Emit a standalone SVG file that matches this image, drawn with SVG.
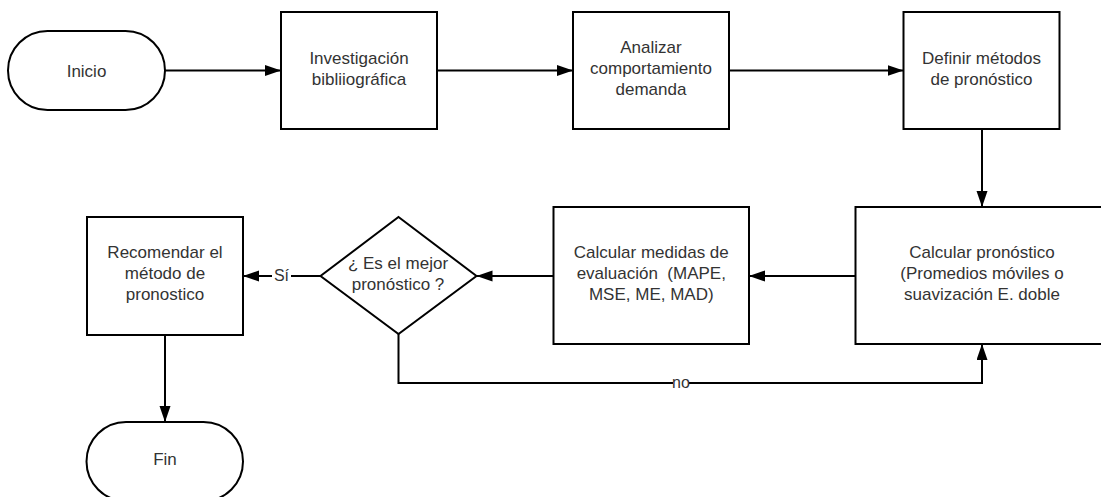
<svg xmlns="http://www.w3.org/2000/svg" width="1101" height="497" viewBox="0 0 1101 497">
<style>
.n{fill:#fff;stroke:#000;stroke-width:2}
.t{font-family:"Liberation Sans",Arial,sans-serif;font-size:17px;fill:#333;text-anchor:middle;white-space:pre}
.l{font-family:"Liberation Sans",Arial,sans-serif;font-size:16px;fill:#333;text-anchor:middle}
.c{fill:none;stroke:#000;stroke-width:2}
</style>
<defs>
<marker id="ah" markerUnits="userSpaceOnUse" markerWidth="17" markerHeight="12" refX="16" refY="5.5" orient="auto">
<path d="M0,0 L16,5.5 L0,11 z" fill="#000"/>
</marker>
</defs>
<rect width="1101" height="497" fill="#fff"/>
<g id="connectors">
<path class="c" d="M165,70.5 H281" marker-end="url(#ah)"/>
<path class="c" d="M437,70.5 H573" marker-end="url(#ah)"/>
<path class="c" d="M729,70.5 H903.5" marker-end="url(#ah)"/>
<path class="c" d="M982,129 V207" marker-end="url(#ah)"/>
<path class="c" d="M855.5,276 H749" marker-end="url(#ah)"/>
<path class="c" d="M553.5,276 H476.5" marker-end="url(#ah)"/>
<path class="c" d="M320.5,276 H243" marker-end="url(#ah)"/>
<path class="c" d="M165,335 V422" marker-end="url(#ah)"/>
<path class="c" d="M398.5,334 V383 H982 V344" marker-end="url(#ah)"/>
<rect x="272" y="265" width="19" height="20" fill="#fff"/>
<text class="l" x="281.5" y="281">Sí</text>
<rect x="673" y="373" width="16" height="18" fill="#fff"/>
<text class="l" x="681" y="388">no</text>
</g>
<g id="inicio">
<rect class="n" x="8" y="31" width="157" height="79" rx="39.5" ry="39.5"/>
<text class="t" x="86.5" y="76.5">Inicio</text>
</g>
<g id="investigacion">
<rect class="n" x="281" y="12" width="156" height="117"/>
<text class="t" x="359" y="64">Investigación</text>
<text class="t" x="359" y="85">bibliiográfica</text>
</g>
<g id="analizar">
<rect class="n" x="573" y="12" width="156" height="117"/>
<text class="t" x="651" y="53">Analizar</text>
<text class="t" x="651" y="74">comportamiento</text>
<text class="t" x="651" y="95">demanda</text>
</g>
<g id="definir">
<rect class="n" x="903.5" y="12" width="156" height="117"/>
<text class="t" x="981.5" y="64">Definir métodos</text>
<text class="t" x="981.5" y="85">de pronóstico</text>
</g>
<g id="calc-pronostico">
<rect class="n" x="855.5" y="207" width="254" height="137"/>
<text class="t" x="982" y="258">Calcular pronóstico</text>
<text class="t" x="982" y="279">(Promedios móviles o</text>
<text class="t" x="982" y="300">suavización E. doble</text>
</g>
<g id="calc-medidas">
<rect class="n" x="553.5" y="207" width="195.5" height="137"/>
<text class="t" x="651.3" y="258">Calcular medidas de</text>
<text class="t" x="651.3" y="279">evaluación  (MAPE,</text>
<text class="t" x="651.3" y="300">MSE, ME, MAD)</text>
</g>
<g id="decision">
<polygon class="n" points="398.5,217 476.5,276 398.5,334 320.5,276"/>
<text class="t" x="398" y="269">¿ Es el mejor</text>
<text class="t" x="398" y="290">pronóstico ?</text>
</g>
<g id="recomendar">
<rect class="n" x="87" y="217" width="156" height="118"/>
<text class="t" x="165" y="258">Recomendar el</text>
<text class="t" x="165" y="279">método de</text>
<text class="t" x="165" y="300">pronostico</text>
</g>
<g id="fin">
<rect class="n" x="86.5" y="422" width="156.5" height="79" rx="39.5" ry="39.5"/>
<text class="t" x="165" y="465">Fin</text>
</g>
</svg>
